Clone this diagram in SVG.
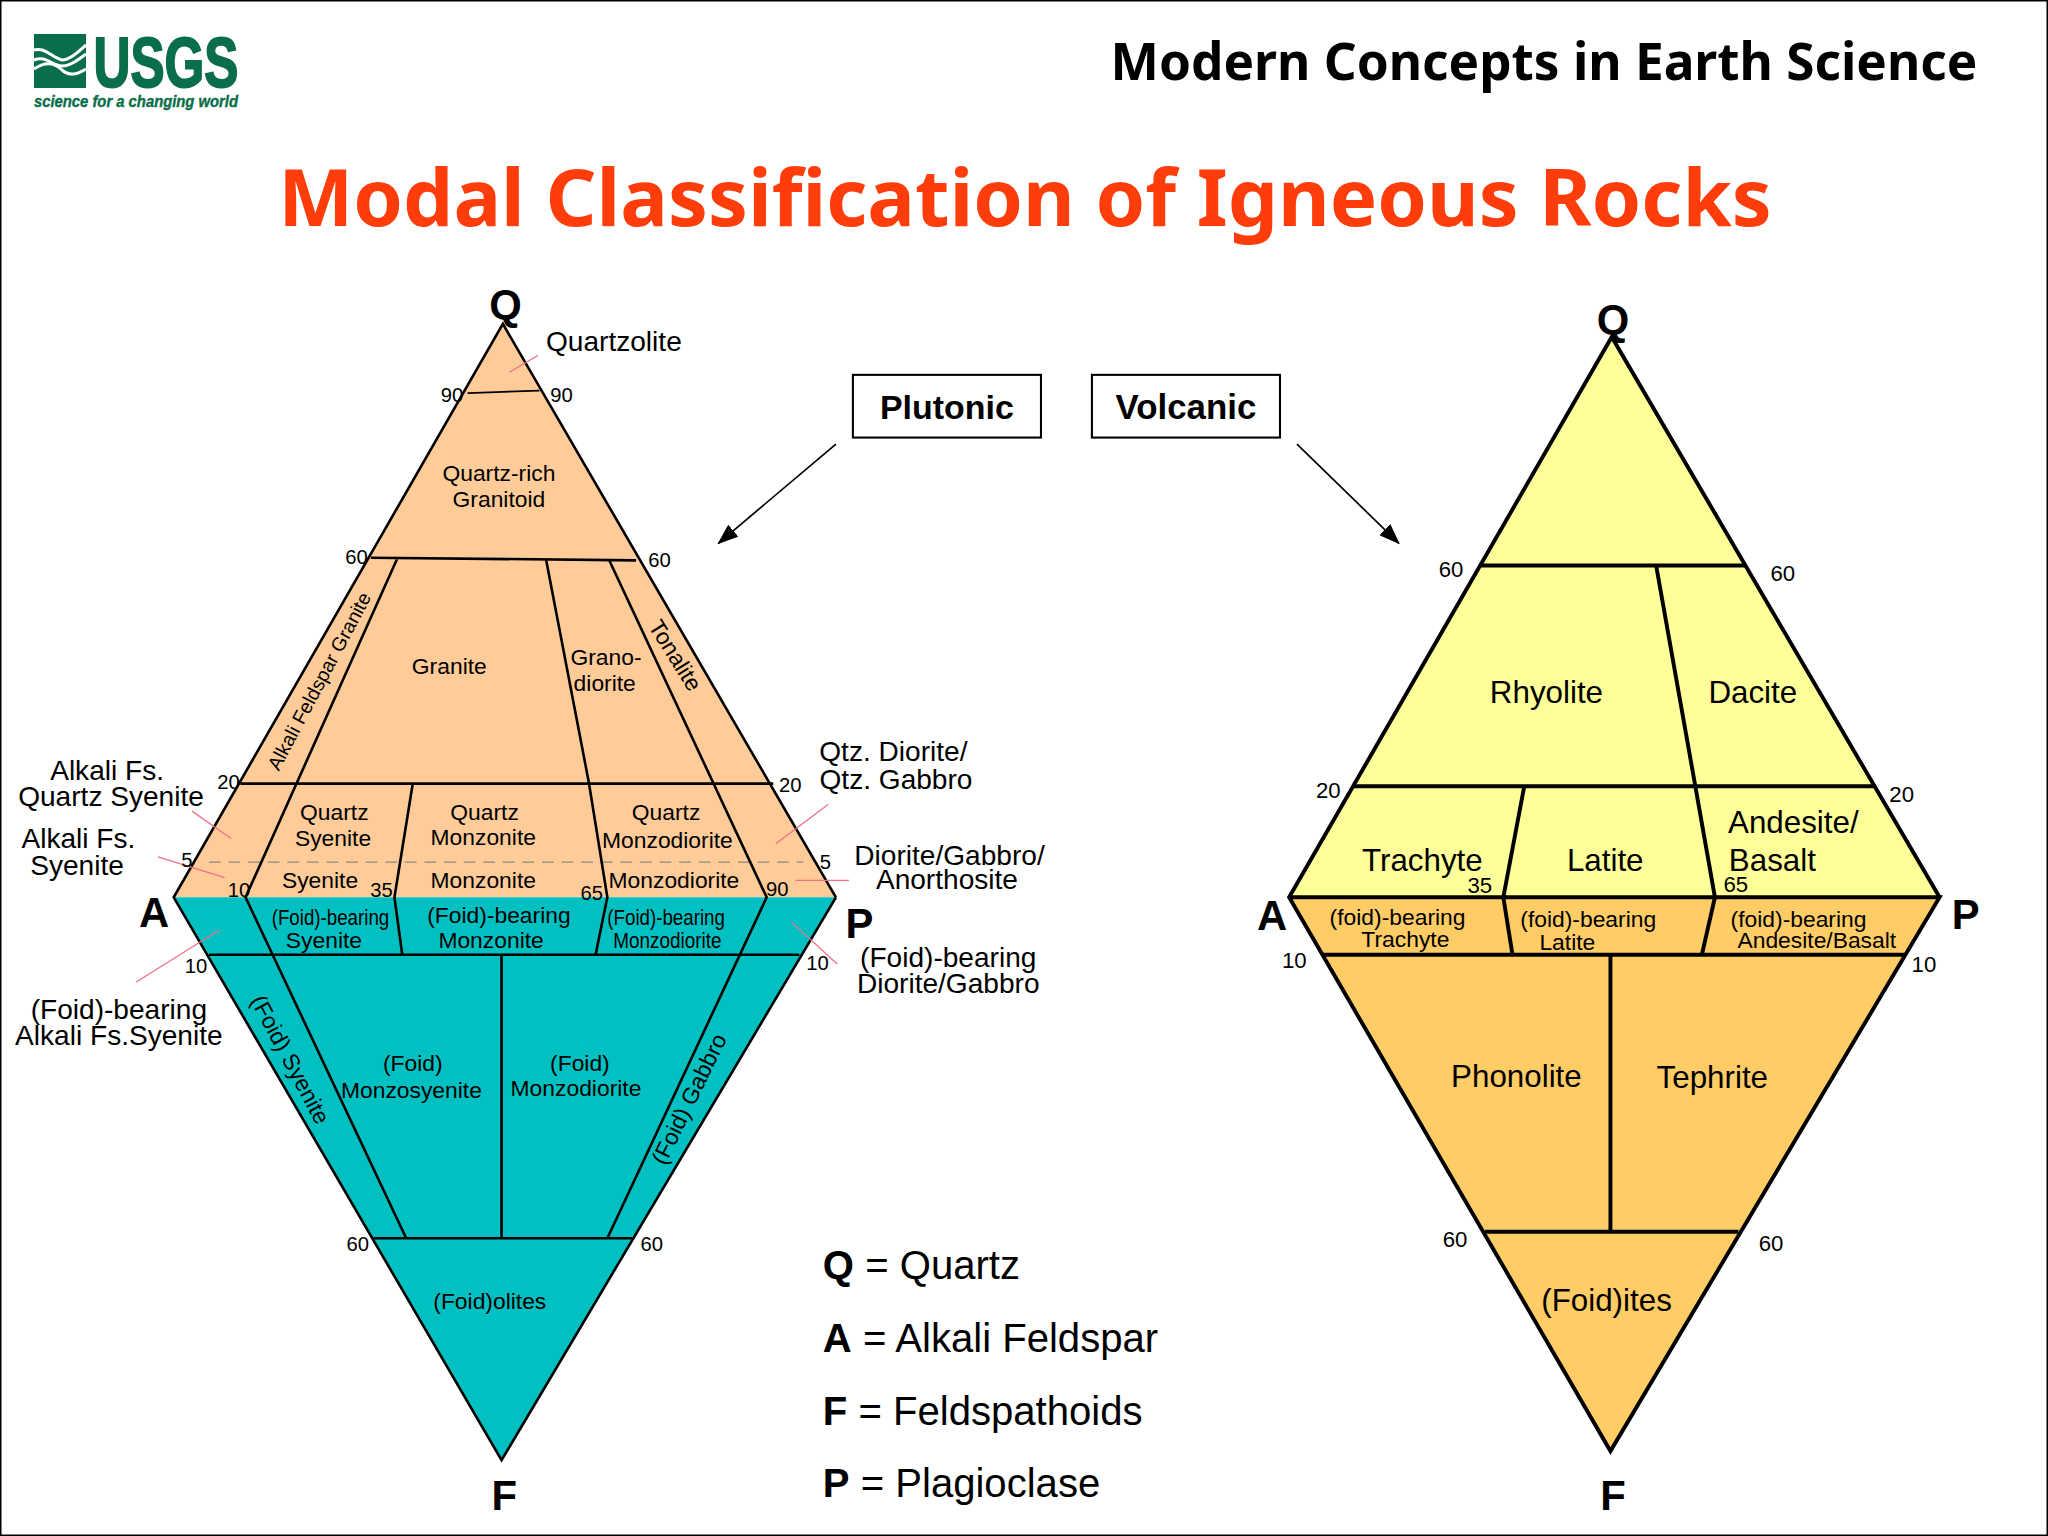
<svg xmlns="http://www.w3.org/2000/svg" width="2048" height="1536" viewBox="0 0 2048 1536">
<defs>
<marker id="ah" viewBox="0 0 16 12" refX="15" refY="6" markerWidth="16" markerHeight="12" orient="auto" markerUnits="userSpaceOnUse"><path d="M0,0L16,6L0,12Z" fill="#000"/></marker>
</defs>
<style>
text{font-family:"Liberation Sans",Arial,sans-serif;fill:#000;text-anchor:middle}
.n{font-size:15.5px}
.s{font-size:15px}
.m{font-size:17.5px}
.l{font-size:21.5px}
.x{font-size:24px}
.w{font-size:17px}
.v{font-size:32px;font-weight:bold}
.k{font-size:30.7px;text-anchor:start}
.k tspan{font-weight:bold}
.o{fill:none;stroke:#000;stroke-width:2;stroke-linejoin:miter}
.b{fill:none;stroke:#000;stroke-width:3;stroke-linejoin:miter}
.r{stroke:#f0708a;stroke-width:1;fill:none}
.hd{font-family:"Noto Sans","Open Sans",sans-serif;font-weight:bold}
</style>
<rect width="2048" height="1536" fill="#fff"/>
<rect x="0.5" y="0.5" width="2047" height="1535" fill="none" stroke="#000" stroke-width="2"/>
<g id="logo">
<rect x="34" y="34" width="52" height="54" fill="#0b6e4a"/>
<g fill="none" stroke="#fff" stroke-width="3">
<path d="M34,50C46,47 52,58 62,60C70,60 78,52 86,45"/>
<path d="M34,60C46,55 52,66 62,66C70,66 78,60 86,54"/>
<path d="M34,69C44,62 54,62 62,70C70,77 78,74 86,69"/>
</g>
<text x="166" y="87" style="font-size:71px;font-weight:bold;fill:#0b6e4a;stroke:#0b6e4a;stroke-width:2" textLength="145" lengthAdjust="spacingAndGlyphs">USGS</text>
<text x="136" y="107" style="font-size:17px;font-weight:bold;font-style:italic;fill:#0b6e4a;stroke:#0b6e4a;stroke-width:.4" textLength="204" lengthAdjust="spacingAndGlyphs">science for a changing world</text>
</g>
<text class="hd" x="1544" y="80" style="font-size:51.3px">Modern Concepts in Earth Science</text>
<text class="hd" x="1025" y="226" style="font-size:79.6px;fill:#ff3d0a">Modal Classification of Igneous Rocks</text>
<g transform="scale(1.30612)">
<g id="plutonic-diagram">
<path d="M385,248L133,687H640Z" fill="#ffcc99"/>
<path d="M133,687H640L384,1118Z" fill="#00c0c2"/>
<path d="M160,660H615" fill="none" stroke="#8a8a7a" stroke-width="1" stroke-dasharray="9 6"/>
<path class="o" d="M640,687L385,248L133,687L384,1118L640,687" />
<path class="o" style="stroke-width:1.3" d="M358,301L413,299"/>
<path class="o" d="M284,427L487,429M184,600H592M304,428L188,687L311,948M418,428L451,600L465,687L456,731M466,428L587,687L465,948M316,600L302,687L308,731M160,731H612M286,948H484M384,731V948"/>
<g id="plutonic-leaders">
<path class="r" d="M390,285L412,272M147,621L177,642M121,656L172,672M104,752L168,712M594,646L634,616M609,674L650,674M606,706L641,738"/>
</g>
<text class="l" x="470" y="269">Quartzolite</text>
<text class="m" x="382" y="368">Quartz-rich</text><text class="m" x="382" y="388">Granitoid</text>
<text class="m" x="344" y="516">Granite</text>
<text class="m" x="464" y="509">Grano-</text><text class="m" x="463" y="529">diorite</text>
<text class="s" transform="translate(249,524) rotate(-62)">Alkali Feldspar Granite</text>
<text class="m" transform="translate(512,505) rotate(58)">Tonalite</text>
<text class="m" x="256" y="628">Quartz</text><text class="m" x="255" y="648">Syenite</text>
<text class="m" x="371" y="628">Quartz</text><text class="m" x="370" y="647">Monzonite</text>
<text class="m" x="510" y="628">Quartz</text><text class="m" x="511" y="649">Monzodiorite</text>
<text class="m" x="245" y="680">Syenite</text>
<text class="m" x="370" y="680">Monzonite</text>
<text class="m" x="516" y="680">Monzodiorite</text>
<text class="m" x="253" y="708" textLength="90" lengthAdjust="spacingAndGlyphs">(Foid)-bearing</text><text class="m" x="248" y="726">Syenite</text>
<text class="m" x="382" y="707">(Foid)-bearing</text><text class="m" x="376" y="726">Monzonite</text>
<text class="m" x="510" y="708" textLength="90" lengthAdjust="spacingAndGlyphs">(Foid)-bearing</text><text class="m" x="511" y="726" textLength="83" lengthAdjust="spacingAndGlyphs">Monzodiorite</text>
<text class="m" x="316" y="820">(Foid)</text><text class="m" x="315" y="841">Monzosyenite</text>
<text class="m" x="444" y="820">(Foid)</text><text class="m" x="441" y="839">Monzodiorite</text>
<text class="m" transform="translate(217,814) rotate(62)">(Foid) Syenite</text>
<text class="m" transform="translate(533,844) rotate(-64)">(Foid) Gabbro</text>
<text class="m" x="375" y="1002">(Foid)olites</text>
<text class="l" x="82" y="597">Alkali Fs.</text><text class="l" x="85" y="617">Quartz Syenite</text>
<text class="l" x="60" y="649">Alkali Fs.</text><text class="l" x="59" y="670">Syenite</text>
<text class="l" x="91" y="780">(Foid)-bearing</text><text class="l" x="91" y="800">Alkali Fs.Syenite</text>
<text class="l" x="684" y="583">Qtz. Diorite/</text><text class="l" x="686" y="604">Qtz. Gabbro</text>
<text class="l" x="727" y="662">Diorite/Gabbro/</text><text class="l" x="725" y="681">Anorthosite</text>
<text class="l" x="726" y="740">(Foid)-bearing</text><text class="l" x="726" y="760">Diorite/Gabbro</text>
<text class="n" x="346" y="308">90</text><text class="n" x="430" y="308">90</text>
<text class="n" x="273" y="432">60</text><text class="n" x="505" y="434">60</text>
<text class="n" x="175" y="604">20</text><text class="n" x="605" y="606">20</text>
<text class="n" x="143" y="664">5</text><text class="n" x="632" y="665">5</text>
<text class="n" x="183" y="687">10</text><text class="n" x="292" y="687">35</text><text class="n" x="453" y="689">65</text><text class="n" x="595" y="686">90</text>
<text class="n" x="150" y="745">10</text><text class="n" x="626" y="743">10</text>
<text class="n" x="274" y="958">60</text><text class="n" x="499" y="958">60</text>
<text class="v" x="387" y="244">Q</text><text class="v" x="118" y="710">A</text><text class="v" x="658" y="718">P</text><text class="v" x="386" y="1156">F</text>
</g>
<g id="volcanic-diagram">
<path d="M1234,258L987,687H1485Z" fill="#ffff99"/>
<path d="M987,687H1485L1233,1111Z" fill="#ffcc66"/>
<path class="b" d="M1485,687L1234,258L987,687L1233,1111L1485,687H987"/>
<path class="b" d="M1133,433H1337M1036,602H1436M1268,433L1298,602L1313,687L1303,731M1167,602L1151,687L1158,731M1012,731H1459M1233,731V943M1137,943H1331"/>
<text class="x" x="1184" y="538">Rhyolite</text><text class="x" x="1342" y="538">Dacite</text>
<text class="x" x="1089" y="667">Trachyte</text><text class="x" x="1229" y="667">Latite</text>
<text class="x" x="1373" y="638">Andesite/</text><text class="x" x="1357" y="667">Basalt</text>
<text class="m" x="1070" y="708">(foid)-bearing</text><text class="m" x="1076" y="725">Trachyte</text>
<text class="m" x="1216" y="710">(foid)-bearing</text><text class="m" x="1200" y="727">Latite</text>
<text class="m" x="1377" y="710">(foid)-bearing</text><text class="m" x="1391" y="726">Andesite/Basalt</text>
<text class="x" x="1161" y="832">Phonolite</text><text class="x" x="1311" y="833">Tephrite</text>
<text class="x" x="1230" y="1004">(Foid)ites</text>
<text class="w" x="1133" y="684">35</text><text class="w" x="1329" y="683">65</text>
<text class="w" x="1111" y="442">60</text><text class="w" x="1365" y="445">60</text>
<text class="w" x="1017" y="611">20</text><text class="w" x="1456" y="614">20</text>
<text class="w" x="991" y="741">10</text><text class="w" x="1473" y="744">10</text>
<text class="w" x="1114" y="955">60</text><text class="w" x="1356" y="958">60</text>
<text class="v" x="1235" y="256">Q</text><text class="v" x="974" y="712">A</text><text class="v" x="1505" y="711">P</text><text class="v" x="1235" y="1156">F</text>
</g>
<g id="plutonic"><rect x="653" y="287" width="144" height="48" fill="#fff" stroke="#000" stroke-width="1.6"/><text x="725" y="321" style="font-size:26px;font-weight:bold">Plutonic</text></g>
<g id="volcanic"><rect x="836" y="287" width="144" height="48" fill="#fff" stroke="#000" stroke-width="1.6"/><text x="908" y="321" style="font-size:26.7px;font-weight:bold">Volcanic</text></g>
<g id="connectors" fill="none" stroke="#000" stroke-width="1.3">
<path d="M640,340L550,416" marker-end="url(#ah)"/>
<path d="M993,340L1071,416" marker-end="url(#ah)"/>
</g>
<g id="legend">
<text class="k" x="630" y="979"><tspan>Q</tspan> = Quartz</text>
<text class="k" x="630" y="1035"><tspan>A</tspan> = Alkali Feldspar</text>
<text class="k" x="630" y="1091"><tspan>F</tspan> = Feldspathoids</text>
<text class="k" x="630" y="1146"><tspan>P</tspan> = Plagioclase</text>
</g>
</g>
</svg>
